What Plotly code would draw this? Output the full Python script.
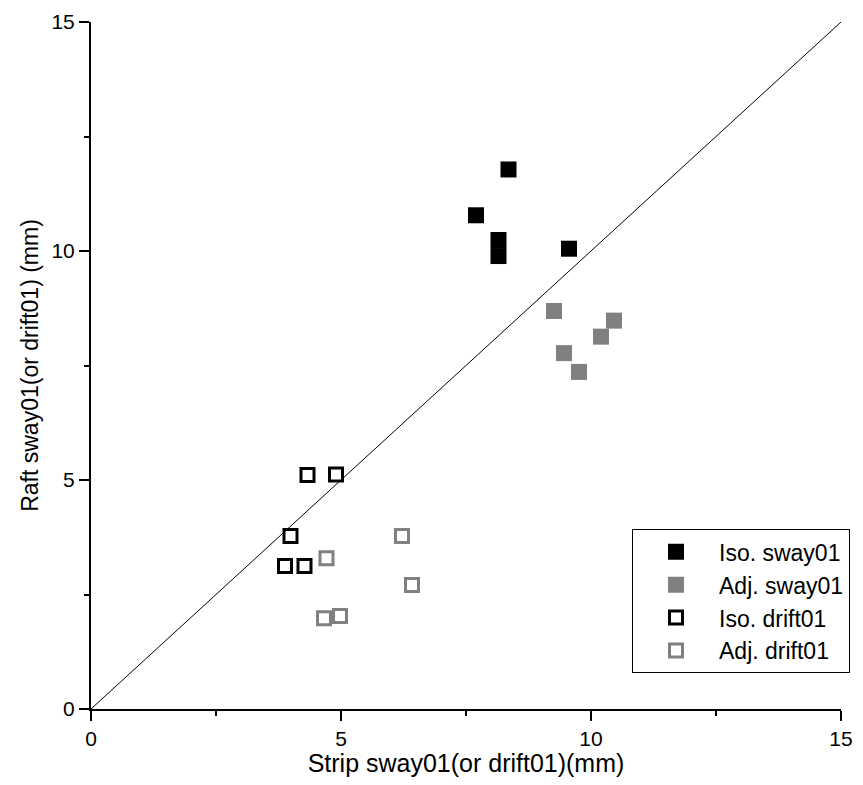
import plotly.graph_objects as go

# values (mm)
iso_sway_x = [8.35, 7.70, 8.15, 8.15, 9.56]
iso_sway_y = [11.78, 10.78, 10.24, 9.89, 10.05]
adj_sway_x = [9.26, 10.46, 10.20, 9.46, 9.76]
adj_sway_y = [8.69, 8.48, 8.13, 7.77, 7.36]
iso_drift_x = [4.33, 4.90, 3.99, 3.88, 4.27]
iso_drift_y = [5.11, 5.12, 3.78, 3.12, 3.12]
adj_drift_x = [6.22, 4.71, 6.42, 4.66, 4.98]
adj_drift_y = [3.78, 3.29, 2.71, 1.98, 2.03]
diag = [0, 15]

font = "Liberation Sans, Arial, sans-serif"
gray = "#808080"

fig = go.Figure()

fig.add_trace(go.Scatter(x=diag, y=diag, mode="lines",
                         line=dict(color="black", width=1), showlegend=False,
                         hoverinfo="skip"))

series = [
    ("Iso. sway01", iso_sway_x, iso_sway_y, "square", "black"),
    ("Adj. sway01", adj_sway_x, adj_sway_y, "square", gray),
    ("Iso. drift01", iso_drift_x, iso_drift_y, "square-open", "black"),
    ("Adj. drift01", adj_drift_x, adj_drift_y, "square-open", gray),
]
for name, xs, ys, sym, col in series:
    is_open = "open" in sym
    fig.add_trace(go.Scatter(
        x=xs, y=ys, mode="markers", name=name,
        marker=dict(symbol=sym, size=13 if is_open else 16, color=col,
                    line=dict(color=col, width=3 if is_open else 0)),
    ))

axis_common = dict(
    range=[0, 15], tickvals=[0, 5, 10, 15], ticks="outside", ticklen=10,
    tickwidth=2, tickcolor="black", showline=True, linecolor="black",
    linewidth=2, showgrid=False, zeroline=False, automargin=False,
    tickfont=dict(family=font, size=21, color="black"),
    minor=dict(tickvals=[2.5, 7.5, 12.5], ticks="outside", ticklen=5,
               tickwidth=2, tickcolor="black"),
)

fig.update_xaxes(**axis_common,
                 title=dict(text="Strip sway01(or drift01)(mm)",
                            font=dict(family=font, size=25, color="black"),
                            standoff=4))
fig.update_yaxes(**axis_common,
                 title=dict(text="Raft sway01(or drift01) (mm)",
                            font=dict(family=font, size=23, color="black"),
                            standoff=6))

# the page body adds an 8px border around the figure
fig.update_layout(
    width=853, height=769,
    margin=dict(l=83, r=11, t=14, b=68),
    plot_bgcolor="white", paper_bgcolor="white",
    legend=dict(x=1.012, xanchor="right", y=0.052, yanchor="bottom",
                bordercolor="black", borderwidth=1, bgcolor="white",
                itemwidth=76,
                font=dict(family=font, size=23, color="black")),
)

fig.write_html("out.html")
